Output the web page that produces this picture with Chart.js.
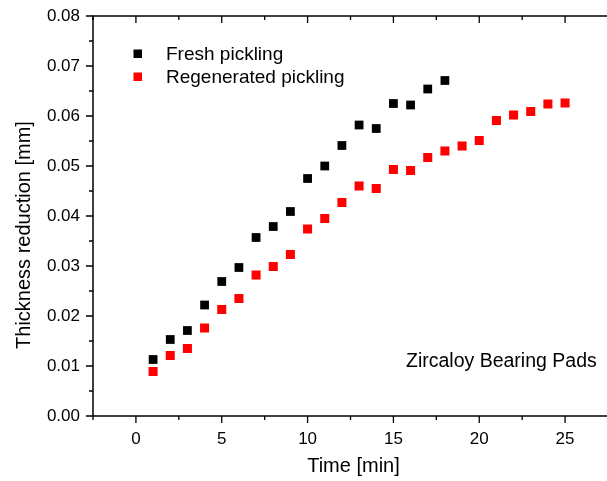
<!DOCTYPE html>
<html>
<head>
<meta charset="utf-8">
<script src="https://cdn.jsdelivr.net/npm/chart.js@4/dist/chart.umd.min.js"></script>
<style>
html,body{margin:0;padding:0;background:#fff;overflow:hidden;}
#wrap{width:626px;height:481px;}
</style>
</head>
<body>
<div id="wrap"><canvas id="c" width="626" height="481"></canvas></div>
<script>
// ---- data ----
const timeMin = [1,2,3,4,5,6,7,8,9,10,11,12,13,14,15,16,17,18,19,20,21,22,23,24,25];
const freshPickling = [0.0113,0.0153,0.0171,0.0222,0.0269,0.0297,0.0357,0.0379,0.0409,0.0475,0.0500,0.0541,0.0582,0.0575,0.0625,0.0622,0.0654,0.0671];
const regeneratedPickling = [0.0089,0.0121,0.0135,0.0176,0.0213,0.0235,0.0282,0.0299,0.0323,0.0374,0.0395,0.0427,0.0460,0.0455,0.0493,0.0491,0.0517,0.0530,0.0540,0.0551,0.0591,0.0602,0.0609,0.0624,0.0626];
const xTickValues = [0,5,10,15,20,25];
const xMinorValues = [-2.5,2.5,7.5,12.5,17.5,22.5,27.5];
const yTickValues = [0,0.01,0.02,0.03,0.04,0.05,0.06,0.07,0.08];
const yMinorValues = [0.005,0.015,0.025,0.035,0.045,0.055,0.065,0.075];
const seriesNames = ['Fresh pickling','Regenerated pickling'];
const annotationText = 'Zircaloy Bearing Pads';
const xTitle = 'Time [min]';
const yTitle = 'Thickness reduction [mm]';

const FONT = '"Liberation Sans", Arial, sans-serif';

function pts(xs, ys){ return ys.map((v,i)=>({x:xs[i], y:v})); }

const framePlugin = {
  id:'frame',
  afterDraw(chart){
    const ctx = chart.ctx, a = chart.chartArea;
    const xs = chart.scales.x, ys = chart.scales.y;
    ctx.save();
    ctx.strokeStyle = '#000';
    ctx.lineWidth = 1.5;
    ctx.beginPath();
    ctx.rect(a.left, a.top, a.right - a.left, a.bottom - a.top);
    ctx.stroke();
    ctx.lineWidth = 1.3;
    ctx.beginPath();
    // bottom axis: outward ticks
    xTickValues.forEach(v=>{const p=xs.getPixelForValue(v); ctx.moveTo(p,a.bottom); ctx.lineTo(p,a.bottom+7);});
    xMinorValues.forEach(v=>{const p=xs.getPixelForValue(v); ctx.moveTo(p,a.bottom); ctx.lineTo(p,a.bottom+4);});
    // top axis: inward ticks
    xTickValues.forEach(v=>{const p=xs.getPixelForValue(v); ctx.moveTo(p,a.top); ctx.lineTo(p,a.top+7);});
    xMinorValues.forEach(v=>{const p=xs.getPixelForValue(v); ctx.moveTo(p,a.top); ctx.lineTo(p,a.top+4);});
    // left axis: outward ticks
    yTickValues.forEach(v=>{const p=ys.getPixelForValue(v); ctx.moveTo(a.left,p); ctx.lineTo(a.left-7,p);});
    yMinorValues.forEach(v=>{const p=ys.getPixelForValue(v); ctx.moveTo(a.left,p); ctx.lineTo(a.left-4,p);});
    // right axis: inward ticks
    yTickValues.forEach(v=>{const p=ys.getPixelForValue(v); ctx.moveTo(a.right,p); ctx.lineTo(a.right-7,p);});
    yMinorValues.forEach(v=>{const p=ys.getPixelForValue(v); ctx.moveTo(a.right,p); ctx.lineTo(a.right-4,p);});
    ctx.stroke();

    // y title
    ctx.fillStyle = '#000';
    ctx.font = '20px ' + FONT;
    ctx.textAlign = 'center';
    ctx.textBaseline = 'middle';
    ctx.save();
    ctx.translate(24, 235);
    ctx.rotate(-Math.PI/2);
    ctx.fillText(yTitle, 0, 0);
    ctx.restore();

    // legend
    const ds = chart.data.datasets;
    const legY = [53.5, 76.5];
    ctx.font = '19px ' + FONT;
    ctx.textAlign = 'left';
    ctx.textBaseline = 'middle';
    ds.forEach((d,i)=>{
      ctx.fillStyle = d.backgroundColor;
      ctx.fillRect(133.5, legY[i]-4, 8.5, 8.5);
      ctx.fillStyle = '#000';
      ctx.fillText(d.label, 166, legY[i]+1);
    });

    // annotation
    ctx.font = '19.5px ' + FONT;
    ctx.fillText(annotationText, 406, 362);
    ctx.restore();
  }
};

new Chart(document.getElementById('c'), {
  type:'scatter',
  data:{
    datasets:[
      {label:seriesNames[0], data:pts(timeMin, freshPickling), backgroundColor:'#000000', borderColor:'#000000', pointStyle:'rect', pointRadius:6.2, borderWidth:0, pointHoverRadius:6.2},
      {label:seriesNames[1], data:pts(timeMin, regeneratedPickling), backgroundColor:'#ff0000', borderColor:'#ff0000', pointStyle:'rect', pointRadius:6.4, borderWidth:0, pointHoverRadius:6.4}
    ]
  },
  options:{
    responsive:false,
    animation:false,
    devicePixelRatio:1,
    layout:{padding:{left:0, top:16, right:12, bottom:0}},
    plugins:{legend:{display:false}, tooltip:{enabled:false}},
    scales:{
      x:{
        type:'linear', min:-2.5, max:27.85,
        afterBuildTicks(s){ s.ticks = xTickValues.map(v=>({value:v})); },
        afterFit(s){ s.height = 65; s.paddingLeft = 0; s.paddingRight = 0; },
        grid:{display:false, drawTicks:false},
        border:{display:false},
        ticks:{color:'#000', font:{family:FONT, size:17}, padding:13, maxRotation:0, callback:v=>String(v)},
        title:{display:true, text:xTitle, color:'#000', font:{family:FONT, size:20}, padding:{top:0,bottom:3}}
      },
      y:{
        type:'linear', min:0, max:0.08,
        afterBuildTicks(s){ s.ticks = yTickValues.map(v=>({value:v})); },
        afterFit(s){ s.width = 93; s.paddingTop = 0; s.paddingBottom = 0; },
        grid:{display:false, drawTicks:false},
        border:{display:false},
        ticks:{color:'#000', font:{family:FONT, size:17}, padding:13, callback:v=>Number(v).toFixed(2)}
      }
    }
  },
  plugins:[framePlugin]
});
</script>
</body>
</html>
